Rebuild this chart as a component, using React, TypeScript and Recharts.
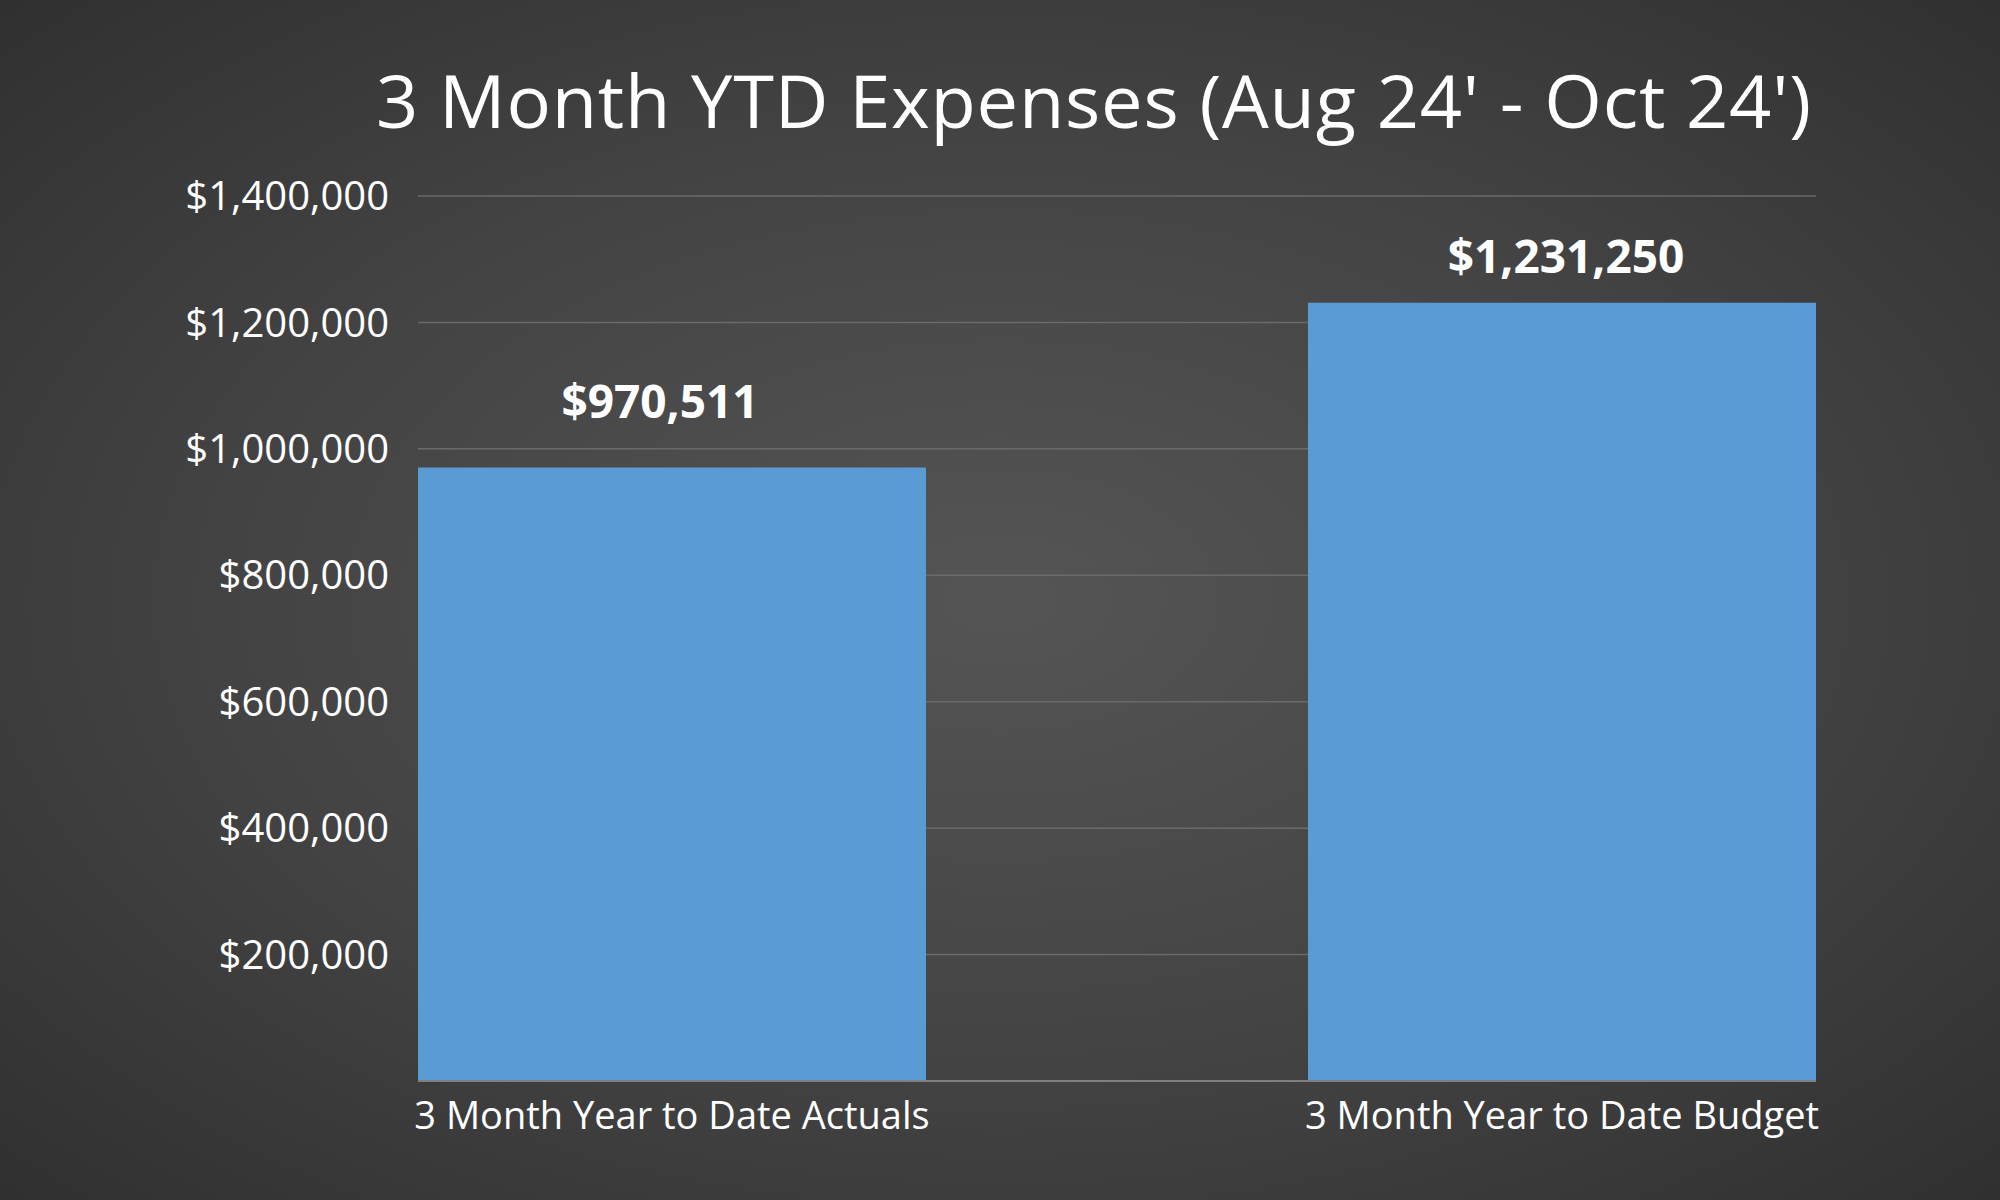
import { BarChart, Bar, XAxis, YAxis, CartesianGrid, LabelList } from "recharts";

const categories = ["3 Month Year to Date Actuals", "3 Month Year to Date Budget"];
const expenses = [970511, 1231250];
const yTicks = [0, 200000, 400000, 600000, 800000, 1000000, 1200000, 1400000];

const data = categories.map((name, i) => ({ name, value: expenses[i] }));

const money = (v: number) => "$" + v.toLocaleString("en-US");

// the first value label sits a bit higher / left of its bar in the original
const labelNudge = [
  { dx: -12, dy: -19 },
  { dx: 4, dy: 0 },
];

const ValueLabel = (props: any) => {
  const { x, y, width, value, index } = props;
  const n = labelNudge[index] || { dx: 0, dy: 0 };
  return (
    <text
      x={x + width / 2 + n.dx}
      y={y - 30 + n.dy}
      textAnchor="middle"
      fill="#ffffff"
      fontSize={46}
      fontWeight={700}
      fontFamily="'Open Sans', sans-serif"
    >
      {money(value)}
    </text>
  );
};

export default function App() {
  return (
    <div
      style={{
        position: "absolute",
        top: 0,
        left: 0,
        width: 2000,
        height: 1200,
        background: "radial-gradient(ellipse at 50% 50%, #555555 0%, #434343 55%, #303030 100%)",
        fontFamily: "'Open Sans', sans-serif",
      }}
    >
      <svg width={2000} height={200} style={{ position: "absolute", top: 0, left: 0 }}>
        <text
          x={1811}
          y={128}
          textAnchor="end"
          fill="#ffffff"
          fontSize={74}
          textLength={1435}
          fontFamily="'Open Sans', sans-serif"
        >
          3 Month YTD Expenses (Aug 24' - Oct 24')
        </text>
      </svg>
      <BarChart
        width={2000}
        height={1200}
        data={data}
        margin={{ top: 196, right: 184, bottom: 89, left: 0 }}
        barCategoryGap={191}
        style={{ position: "absolute", top: 0, left: 0 }}
      >
        <CartesianGrid vertical={false} stroke="#6a6a6a" strokeWidth={1.5} />
        <XAxis
          dataKey="name"
          height={30}
          padding={{ left: -191, right: -191 }}
          tickLine={false}
          axisLine={{ stroke: "#7f7f7f", strokeWidth: 2 }}
          tick={{ fill: "#ffffff", fontSize: 38 }}
          tickMargin={15}
        />
        <YAxis
          width={418}
          domain={[0, 1400000]}
          ticks={yTicks}
          tickFormatter={(v: number) => (v === 0 ? "" : money(v))}
          axisLine={false}
          tickLine={false}
          tickSize={0}
          tickMargin={29}
          tick={{ fill: "#ffffff", fontSize: 40 }}
        />
        <Bar dataKey="value" fill="#5b9bd5" isAnimationActive={false}>
          <LabelList dataKey="value" content={ValueLabel} />
        </Bar>
      </BarChart>
    </div>
  );
}
